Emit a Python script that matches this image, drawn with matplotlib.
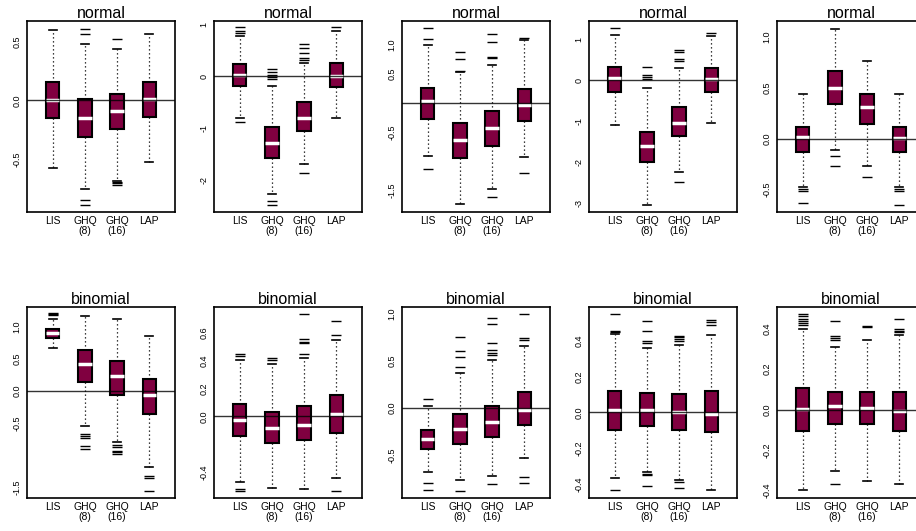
import matplotlib.pyplot as plt

plt.rcParams['font.family'] = ['Liberation Sans', 'DejaVu Sans']

titles = ['normal'] * 5 + ['binomial'] * 5
methods = ['LIS', 'GHQ\n(8)', 'GHQ\n(16)', 'LAP']

# box statistics per panel, one value per method (LIS, GHQ8, GHQ16, LAP)
q3 = [
    [0.157, 0.014, 0.057, 0.157],
    [0.24, -0.98, -0.50, 0.26],
    [0.26, -0.34, -0.13, 0.25],
    [0.33, -1.27, -0.65, 0.29],
    [0.115, 0.665, 0.44, 0.115],
    [0.97, 0.635, 0.47, 0.19],
    [0.09, 0.029, 0.071, 0.15],
    [-0.23, -0.064, 0.018, 0.167],
    [0.12, 0.107, 0.10, 0.12],
    [0.107, 0.087, 0.087, 0.087],
]
medians = [
    [0.0, -0.15, -0.094, 0.01],
    [0.03, -1.28, -0.81, 0.01],
    [0.03, -0.63, -0.42, -0.03],
    [0.06, -1.62, -1.04, 0.02],
    [0.016, 0.50, 0.31, 0.01],
    [0.905, 0.42, 0.23, -0.06],
    [-0.024, -0.083, -0.06, 0.019],
    [-0.326, -0.223, -0.149, -0.025],
    [0.015, 0.011, 0.0, -0.01],
    [0.003, 0.016, 0.008, -0.005],
]
q1 = [
    [-0.151, -0.31, -0.24, -0.14],
    [-0.19, -1.57, -1.05, -0.21],
    [-0.27, -0.94, -0.73, -0.30],
    [-0.30, -2.01, -1.37, -0.30],
    [-0.13, 0.34, 0.14, -0.13],
    [0.83, 0.135, -0.06, -0.36],
    [-0.138, -0.19, -0.17, -0.12],
    [-0.433, -0.38, -0.31, -0.177],
    [-0.10, -0.074, -0.096, -0.11],
    [-0.104, -0.071, -0.071, -0.104],
]
whis_hi = [
    [0.60, 0.48, 0.44, 0.57],
    [0.77, -0.18, 0.26, 0.87],
    [1.0, 0.53, 0.66, 1.09],
    [1.10, -0.18, 0.29, 1.08],
    [0.44, 1.08, 0.76, 0.44],
    [1.125, 1.17, 1.125, 0.85],
    [0.40, 0.375, 0.417, 0.548],
    [0.018, 0.372, 0.507, 0.663],
    [0.437, 0.357, 0.376, 0.43],
    [0.399, 0.31, 0.346, 0.367],
]
whis_lo = [
    [-0.58, -0.755, -0.69, -0.53],
    [-0.81, -2.27, -1.69, -0.81],
    [-0.91, -1.74, -1.48, -0.93],
    [-1.11, -3.05, -2.25, -1.06],
    [-0.475, -0.11, -0.27, -0.475],
    [0.67, -0.54, -0.79, -1.18],
    [-0.47, -0.512, -0.52, -0.44],
    [-0.684, -0.77, -0.727, -0.53],
    [-0.365, -0.333, -0.378, -0.433],
    [-0.399, -0.305, -0.351, -0.366],
]
outliers = [
    [[], [0.61, 0.57, -0.855, -0.89], [0.53, -0.70, -0.71, -0.72], []],
    [[0.94, 0.87, 0.82, -0.89], [0.13, 0.08, 0.03, -0.01, -0.06, -2.40, -2.48],
     [0.61, 0.54, 0.45, 0.35, 0.31, -1.86], [0.94]],
    [[1.10, 1.29, -1.14], [0.87, 0.76, 0.55], [1.19, 1.05, 0.79, 0.77, -1.61], [1.11, -1.2]],
    [[1.28], [0.32, 0.12, 0.08, 0.04], [0.74, 0.68, 0.53, 0.47, -2.5], [1.16]],
    [[-0.49, -0.51, -0.63], [-0.17, -0.27], [-0.38], [-0.49, -0.51, -0.65]],
    [[1.22, 1.20, 1.18], [-0.67, -0.71, -0.74, -0.86, -0.91],
     [-0.85, -0.88, -0.94, -0.96, -0.98], [-1.32, -1.36, -1.56]],
    [[0.445, 0.43, -0.517, -0.536], [0.415, 0.40], [0.445, 0.55, 0.53, 0.52, 0.733],
     [0.583, 0.683, -0.53]],
    [[0.10, -0.80, -0.876], [0.433, 0.54, 0.61, 0.76, -0.88],
     [0.62, 0.585, 0.56, 0.69, 0.894, 0.957, -0.81], [0.745, 0.727, 1.0, -0.73, -0.80]],
    [[0.454, 0.446, 0.548, -0.43], [0.394, 0.385, 0.454, 0.51, -0.343, -0.35, -0.41],
     [0.426, 0.417, 0.407, 0.398, -0.387, -0.42], [0.515, 0.50, 0.487]],
    [[0.473, 0.461, 0.45, 0.44, 0.428, 0.417], [0.362, 0.354, 0.346, 0.44, -0.37],
     [0.41, 0.415], [0.399, 0.39, 0.382, 0.45]],
]

y_limits = [
    (-0.954, 0.68), (-2.61, 1.06), (-1.87, 1.41), (-3.23, 1.45), (-0.72, 1.157),
    (-1.67, 1.31), (-0.583, 0.78), (-0.957, 1.074), (-0.476, 0.585), (-0.437, 0.507),
]
y_ticks = [
    [0.5, 0.0, -0.5],
    [1, 0, -1, -2],
    [1.0, 0.5, -0.5, -1.5],
    [1, 0, -1, -2, -3],
    [1.0, 0.5, 0.0, -0.5],
    [1.0, 0.5, 0.0, -0.5, -1.5],
    [0.6, 0.4, 0.2, 0.0, -0.4],
    [1.0, 0.5, 0.0, -0.5],
    [0.4, 0.2, 0.0, -0.2, -0.4],
    [0.4, 0.2, 0.0, -0.2, -0.4],
]
y_ticklabels = [
    ['0.5', '0.0', '-0.5'],
    ['1', '0', '-1', '-2'],
    ['1.0', '0.5', '-0.5', '-1.5'],
    ['1', '0', '-1', '-2', '-3'],
    ['1.0', '0.5', '0.0', '-0.5'],
    ['1.0', '0.5', '0.0', '-0.5', '-1.5'],
    ['0.6', '0.4', '0.2', '0.0', '-0.4'],
    ['1.0', '0.5', '0.0', '-0.5'],
    ['0.4', '0.2', '0.0', '-0.2', '-0.4'],
    ['0.4', '0.2', '0.0', '-0.2', '-0.4'],
]

BOX_COLOR = '#800040'
W, H = 916, 531
lefts = [27, 214, 402, 589, 777]
tops = [21, 307]
pw, ph = 148, 191

fig = plt.figure(figsize=(W / 100, H / 100), dpi=100)

for k in range(10):
    row, col = divmod(k, 5)
    ax = fig.add_axes([lefts[col] / W, 1 - (tops[row] + ph) / H, pw / W, ph / H])
    stats = []
    for j in range(4):
        stats.append(dict(med=medians[k][j], q1=q1[k][j], q3=q3[k][j],
                          whislo=whis_lo[k][j], whishi=whis_hi[k][j],
                          fliers=outliers[k][j]))
    ax.bxp(stats, positions=[1, 2, 3, 4], widths=0.42, capwidths=0.25,
           patch_artist=True, showfliers=True,
           boxprops=dict(facecolor=BOX_COLOR, edgecolor='black', linewidth=1.5),
           medianprops=dict(color='white', linewidth=2.5),
           whiskerprops=dict(color='black', linewidth=0.9, linestyle=(0, (1, 2.2))),
           capprops=dict(color='black', linewidth=1.2),
           flierprops=dict(marker='_', markersize=6.5, markeredgewidth=1.0,
                           markeredgecolor='black'),
           zorder=2)
    # zero reference line drawn over the boxes
    ax.axhline(0, color='black', lw=1.0, alpha=0.8, zorder=3)
    ax.set_xlim(0.2, 4.8)
    ax.set_ylim(*y_limits[k])
    ax.set_yticks(y_ticks[k])
    ax.set_yticklabels(y_ticklabels[k], rotation=90, va='center', fontsize=6.5)
    ax.set_xticks([1, 2, 3, 4])
    ax.set_xticklabels(methods, fontsize=7.5, linespacing=1.0)
    ax.tick_params(axis='y', length=0, pad=4)
    ax.tick_params(axis='x', length=0, pad=3)
    for spine in ax.spines.values():
        spine.set_linewidth(1.2)
    ax.set_title(titles[k], fontsize=11.5, pad=2)

fig.savefig('out.png', dpi=100)
